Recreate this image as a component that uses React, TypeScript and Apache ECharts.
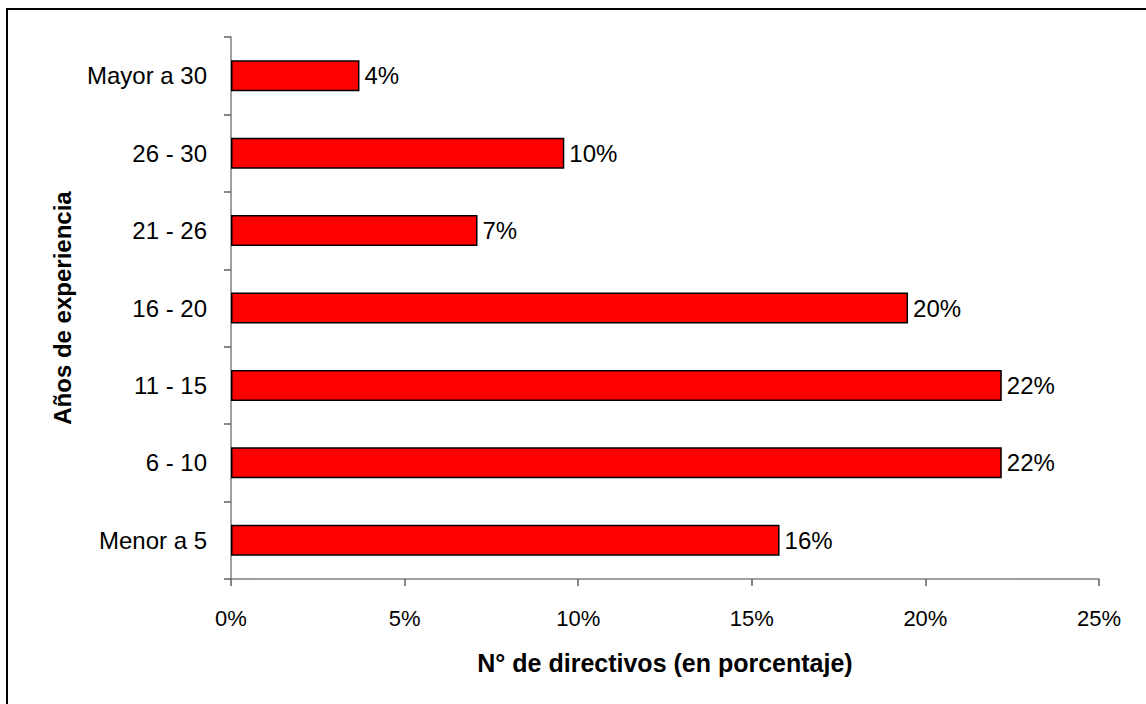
import React, { useEffect, useRef } from "react";
import * as echarts from "echarts";

const categories = ["Menor a 5", "6 - 10", "11 - 15", "16 - 20", "21 - 26", "26 - 30", "Mayor a 30"];
const values = [15.8, 22.2, 22.2, 19.5, 7.1, 9.6, 3.7];
const xTicks = [0, 5, 10, 15, 20, 25];
const xAxisTitle = "N° de directivos (en porcentaje)";
const yAxisTitle = "Años de experiencia";

export default function App() {
  const ref = useRef<HTMLDivElement>(null);
  useEffect(() => {
    if (!ref.current) return;
    const chart = echarts.init(ref.current, null, { renderer: "svg" });
    const font = "'Liberation Sans', Arial, sans-serif";
    chart.setOption({
      animation: false,
      backgroundColor: "#ffffff",
      textStyle: { fontFamily: font },
      grid: { left: 231, right: 47, top: 37, bottom: 125, containLabel: false },
      graphic: [
        {
          type: "rect",
          shape: { x: 7, y: 9, width: 1300, height: 900 },
          style: { fill: "none", stroke: "#000000", lineWidth: 2 },
          silent: true,
        },
      ],
      xAxis: {
        type: "value",
        min: xTicks[0],
        max: xTicks[xTicks.length - 1],
        interval: 5,
        name: xAxisTitle,
        nameLocation: "middle",
        nameGap: 71,
        nameTextStyle: { fontFamily: font, fontSize: 25, fontWeight: "bold", color: "#000" },
        axisLine: { show: true, lineStyle: { color: "#808080", width: 1.5 } },
        axisTick: { show: true, length: 7, lineStyle: { color: "#606060", width: 1.5 } },
        axisLabel: {
          fontFamily: font,
          fontSize: 22,
          color: "#000",
          margin: 28,
          formatter: (v: number) => v + "%",
        },
        splitLine: { show: false },
      },
      yAxis: {
        type: "category",
        data: categories,
        name: yAxisTitle,
        nameLocation: "middle",
        nameGap: 157,
        nameRotate: 90,
        nameTextStyle: { fontFamily: font, fontSize: 24, fontWeight: "bold", color: "#000" },
        axisLine: { show: true, lineStyle: { color: "#808080", width: 1.5 } },
        axisTick: { show: true, length: 7, alignWithLabel: false, lineStyle: { color: "#606060", width: 1.5 } },
        axisLabel: { fontFamily: font, fontSize: 24, color: "#000", margin: 24 },
        splitLine: { show: false },
      },
      series: [
        {
          type: "bar",
          data: values,
          barWidth: 31,
          itemStyle: { color: "#ff0000", borderColor: "#000000", borderWidth: 1.5 },
          label: {
            show: true,
            position: "right",
            distance: 5,
            fontFamily: font,
            fontSize: 24,
            color: "#000",
            formatter: (p: any) => Math.round(p.value) + "%",
          },
        },
      ],
    });
    return () => chart.dispose();
  }, []);
  return (
    <div
      ref={ref}
      style={{ position: "absolute", left: 0, top: 0, width: 1146, height: 704 }}
    />
  );
}
